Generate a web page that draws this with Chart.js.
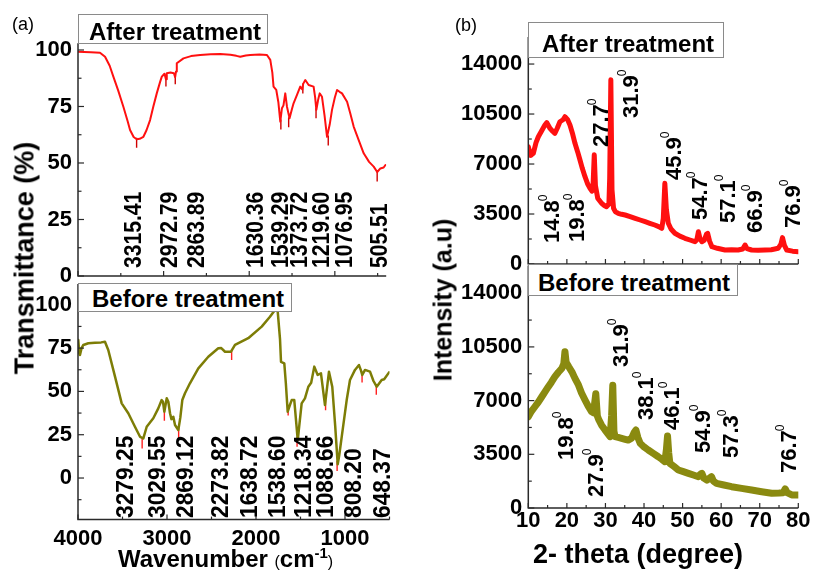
<!DOCTYPE html>
<html>
<head>
<meta charset="utf-8">
<script src="https://cdn.jsdelivr.net/npm/chart.js@4.4.0/dist/chart.umd.min.js"></script>
<style>
body { margin: 0; background: #fff; width: 813px; height: 572px; overflow: hidden; position: relative;
       font-family: "Liberation Sans", Arial, sans-serif; color: #000; }
canvas { position: absolute; left: 0; top: 0; }
.box { position: absolute; border: 1px solid #8a8a8a; background: #fff; box-sizing: border-box; }
.txt { position: absolute; line-height: 1; white-space: nowrap; }
.b { font-weight: bold; }
.rot { transform: translate(-50%, -50%) rotate(-90deg); }
</style>
</head>
<body>
<canvas id="ftirAfter" width="813" height="572"></canvas>
<canvas id="ftirBefore" width="813" height="572"></canvas>
<canvas id="xrdAfter" width="813" height="572"></canvas>
<canvas id="xrdBefore" width="813" height="572"></canvas>

<div class="txt" style="left:12px;top:15px;font-size:18px">(a)</div>
<div class="txt" style="left:455px;top:16px;font-size:18px">(b)</div>

<div class="box" style="left:78px;top:14px;width:190px;height:30px"></div>
<div class="txt b" style="left:89px;top:20px;font-size:24px">After treatment</div>
<div class="box" style="left:78px;top:283px;width:214px;height:29px"></div>
<div class="txt b" style="left:92px;top:287px;font-size:24px">Before treatment</div>
<div class="box" style="left:528px;top:22px;width:196px;height:36px"></div>
<div class="txt b" style="left:542px;top:32px;font-size:24px">After treatment</div>
<div class="box" style="left:528px;top:264px;width:210px;height:32px"></div>
<div class="txt b" style="left:538px;top:271px;font-size:24px">Before treatment</div>

<div class="txt b rot" style="left:25px;top:258px;font-size:27px">Transmittance (%)</div>
<div class="txt b rot" style="left:443px;top:300px;font-size:25px">Intensity (a.u)</div>
<div class="txt b" style="left:118px;top:545px;font-size:24px">Wavenumber <span style="font-size:16px;font-weight:normal">(</span>cm<sup style="font-size:15px">-1</sup><span style="font-size:16px;font-weight:normal">)</span></div>
<div class="txt b" style="left:533px;top:541px;font-size:27px">2- theta (degree)</div>

<script>
// ---------- FTIR, after treatment ----------
const ftirAfterWn = [4000, 3850, 3743, 3684, 3630, 3587, 3530, 3470, 3420, 3392, 3350, 3314, 3280, 3236, 3200,
  3158, 3120, 3080, 3040, 3021, 2990, 2972, 2963, 2920, 2880, 2865, 2855, 2846, 2768, 2680, 2573, 2450,
  2339, 2220, 2150, 2105, 2040, 1988, 1880, 1793, 1754, 1730, 1716, 1684, 1660, 1637, 1618, 1600, 1579,
  1559, 1529, 1500, 1482, 1442, 1404, 1380, 1370, 1345, 1306, 1248, 1230, 1216, 1195, 1177, 1150, 1120,
  1091, 1060, 1033, 1000, 974, 945, 916, 857, 820, 780, 720, 663, 600, 546, 505, 468, 430, 409];
const ftirAfterT = [99.2, 99, 98.8, 97.0, 93, 88.2, 82, 74.9, 68.5, 64.6, 61.5, 60.5, 60.7, 61.6, 64.5,
  69.0, 75, 80.8, 86, 88.2, 89.5, 87, 89.7, 90, 89.7, 88, 90.5, 94.1, 96.3, 97.3, 97.8, 98.1,
  98.2, 97.9, 97.4, 97.0, 97.6, 97.8, 98.0, 97.8, 95.6, 90, 83.8, 82.3, 77, 68.3, 74.2, 75.5, 80.8,
  74.9, 69.8, 74, 76.4, 80.1, 83.8, 82.5, 85, 86.7, 84.5, 83.8, 79, 73.5, 78, 80.8, 79.3, 71,
  61.6, 67, 73.5, 79, 82.3, 81.5, 80.8, 77.1, 72, 66.1, 60, 54.3, 50.5, 48.4, 46, 47.6, 48, 49.1];
const ftirAfterPeaks = ['3315.41', '2972.79', '2863.89', '1630.36', '1539.29', '1373.72', '1219.60', '1076.95', '505.51'];
const ftirAfterLabelWn = [3369, 2949, 2633, 1944, 1652, 1430, 1173, 904, 495];
const ftirAfterLabelT = [3.5, 3.5, 3.5, 3.5, 3.5, 3.5, 3.5, 3.5, 3.5];
const ftirAfterMarkT = [59, 86, 87, 67, 68, 83, 72, 60, 44];

// ---------- FTIR, before treatment ----------
const ftirBeforeWn = [3997, 3985, 3978, 3960, 3940, 3884, 3809, 3740, 3697, 3660, 3584, 3509, 3435, 3360,
  3303, 3266, 3228, 3154, 3098, 3060, 3045, 3030, 3003, 2985, 2966, 2950, 2929, 2910, 2873, 2850, 2828,
  2798, 2742, 2648, 2536, 2424, 2390, 2348, 2281, 2236, 2087, 1936, 1843, 1787, 1770, 1756, 1730, 1719,
  1682, 1665, 1644, 1620, 1599, 1570, 1531, 1487, 1450, 1412, 1380, 1345, 1307, 1270, 1225, 1180, 1143,
  1110, 1082, 1065, 1037, 981, 944, 888, 843, 820, 806, 775, 719, 680, 644, 588, 560, 513, 505];
const ftirBeforeT = [79.7, 72, 71.0, 75, 76.8, 77.8, 78.1, 78.3, 78.7, 73.9, 58.5, 43.1, 37.4, 29.6,
  23.8, 22.9, 29.6, 34.5, 40.2, 45.0, 44, 38.3, 46.0, 44, 37.4, 34, 35.4, 30.6, 27.7, 35, 45.0,
  48.9, 54.7, 63.3, 70.0, 74.9, 75, 72.9, 72.9, 76.8, 80.7, 87.4, 93.1, 97.0, 99, 96.0, 80, 67.1,
  66.2, 55, 38.3, 42, 45.0, 45.0, 21.9, 43.1, 46, 52.7, 55, 64.3, 59.5, 60.4, 42.1, 61.4, 52.7,
  30, 8, 13, 23.8, 45.0, 56.6, 62.4, 65.2, 62, 59.5, 62.4, 61.4, 56, 52.7, 56.6, 57, 60.4, 61];
const ftirBeforePeaks = ['3279.25', '3029.55', '2869.12', '2273.82', '1638.72', '1538.60', '1218.34', '1088.66', '808.20', '648.37'];
const ftirBeforeLabelWn = [3483, 3124, 2809, 2416, 2090, 1775, 1483, 1236, 921, 596];
const ftirBeforeLabelT = [-23.1, -23.1, -23.1, -23.1, -23.1, -23.1, -23.1, -23.1, -23.1, -23.1];
const ftirBeforeMarkT = [20, 36, 26, 71, 39, 21, 42, 7, 58, 51];

// ---------- XRD, after treatment ----------
const xrdAfterTheta = [10, 10.6, 11.3, 12, 12.6, 13.4, 14.3, 14.8, 15.6, 16.3, 16.9, 17.5, 18.2, 19, 19.5,
  20.2, 20.8, 21.5, 22.1, 22.8, 23.4, 24, 24.7, 25.4, 26, 26.5, 26.8, 27.1, 27.4, 28, 29, 29.7, 30.3,
  30.9, 31.1, 31.4, 31.7, 32.1, 32.6, 33.3, 34.2, 35.1, 36.4, 37.7, 39, 40.3, 41.5, 42.8, 43.8, 44.6,
  45.0, 45.4, 45.8, 46.3, 47, 48, 49.3, 50.6, 51.9, 53.2, 53.7, 54.1, 54.5, 55, 55.6, 56.2, 56.5, 57,
  57.6, 59, 61, 62.7, 64.4, 65.6, 66.2, 66.7, 67.9, 69.6, 71.4, 73, 74.8, 75.5, 75.9, 76.4, 77, 78.5, 80];
const xrdAfterI = [8210, 7600, 7750, 8500, 8910, 9300, 9730, 9900, 9500, 9300, 9150, 9500, 9960, 10100, 10310,
  10100, 9730, 9100, 8450, 7850, 7280, 6700, 6110, 5600, 5300, 5100, 5600, 7650, 5500, 4600, 4250, 4100, 4010,
  4200, 6000, 12900, 5200, 3900, 3650, 3550, 3480, 3430, 3320, 3200, 3080, 2960, 2850, 2730, 2620, 2500,
  3200, 5650, 3800, 2850, 2450, 2150, 1950, 1800, 1680, 1560, 1700, 2260, 1800, 1560, 1650, 2100, 2150, 1600,
  1210, 1100, 980, 1000, 980, 1050, 1330, 1080, 980, 960, 980, 1000, 1100, 1400, 1850, 1300, 980, 900, 860];
const xrdAfterPeaks = ['14.8', '19.8', '27.7', '31.9', '45.9', '54.7', '57.1', '66.9', '76.9'];
const xrdAfterLabelTheta = [15.9, 22.4, 28.6, 36.4, 47.5, 54.3, 61.6, 68.6, 78.3];
const xrdAfterLabelI = [1470, 1540, 8190, 10220, 5880, 3080, 2870, 2170, 2520];

// ---------- XRD, before treatment ----------
const xrdBeforeTheta = [10, 10.8, 11.7, 12.6, 13.5, 14.4, 15.2, 16, 16.9, 17.8, 18.7, 19.2, 19.5, 19.8,
  20.5, 21.3, 22.1, 23, 23.8, 24.7, 25.5, 26.4, 26.9, 27.5, 27.9, 28.3, 29, 29.9, 30.6, 31.2, 31.6,
  31.9, 32.2, 32.5, 33.3, 34.2, 35.1, 35.9, 36.8, 37.4, 37.9, 38.4, 39, 40, 41.1, 42.4, 43.7, 44.6,
  45.4, 45.8, 46.1, 46.4, 46.7, 47.8, 48.9, 50.2, 51.5, 52.8, 54.1, 54.6, 55, 55.5, 56.3, 57, 57.5, 58,
  58.8, 60.7, 62.7, 65.3, 67.9, 70.5, 73.1, 75, 76.1, 76.6, 77.1, 78.3, 80];
const xrdBeforeI = [5950, 6300, 6600, 6900, 7250, 7600, 7910, 8200, 8560, 8850, 9100, 9400, 10190, 9500,
  9200, 8880, 8450, 8020, 7500, 7040, 6650, 6280, 6200, 7450, 6000, 5740, 5400, 5080, 4850, 4650, 6000,
  8000, 5000, 4650, 4600, 4540, 4480, 4430, 4550, 4900, 5080, 4600, 4220, 3980, 3780, 3560, 3340, 3180,
  3020, 3800, 4690, 3600, 2910, 2700, 2480, 2370, 2260, 2150, 2040, 2200, 2260, 1950, 1820, 1950, 2040, 1750,
  1610, 1500, 1390, 1280, 1170, 1060, 960, 980, 1000, 1250, 1000, 850, 850];
const xrdBeforePeaks = ['19.8', '27.9', '31.9', '38.1', '46.1', '54.9', '57.3', '76.7'];
const xrdBeforeLabelTheta = [19.5, 27.3, 33.8, 40.3, 47.0, 55.0, 62.3, 77.3];
const xrdBeforeLabelI = [3130, 717, 9190, 5735, 5084, 3585, 3260, 2280];

// ---------- tick labels ----------
const ftirXTicks = [4000, 3000, 2000, 1000];
const ftirYTicks = [0, 25, 50, 75, 100];
const xrdXTicks = [10, 20, 30, 40, 50, 60, 70, 80];
const xrdYTicks = [0, 3500, 7000, 10500, 14000];

const FONT = '"Liberation Sans", Arial, sans-serif';
const W = 813, H = 572, X_H = 40;

function pts(xs, ys) { return xs.map((x, i) => ({ x: x, y: ys[i] })); }

// axes, inward ticks (major + halfway minor) and rotated peak labels
const decor = {
  id: 'decor',
  afterDatasetsDraw(chart, args, o) {
    const ctx = chart.ctx, a = chart.chartArea, xs = chart.scales.x, ys = chart.scales.y;
    ctx.save();
    ctx.strokeStyle = '#2a2a2a';
    ctx.lineWidth = 1.5;
    ctx.beginPath();
    ctx.moveTo(a.left, a.top); ctx.lineTo(a.left, a.bottom); ctx.lineTo(a.right, a.bottom);
    ctx.stroke();

    ctx.lineWidth = 1.2;
    const inRange = (s, v) => v >= Math.min(s.min, s.max) - 1e-6 && v <= Math.max(s.min, s.max) + 1e-6;
    const marks = (s, ticks, horiz) => {
      const step = ticks[1] - ticks[0];
      ticks.forEach(v => {
        if (!inRange(s, v)) return;
        const p = s.getPixelForValue(v);
        ctx.beginPath();
        if (horiz) { ctx.moveTo(p, a.bottom); ctx.lineTo(p, a.bottom - 5); }
        else { ctx.moveTo(a.left, p); ctx.lineTo(a.left + 6, p); }
        ctx.stroke();
      });
      for (let k = -1; k < ticks.length; k++) {
        const v = ticks[0] + step * (k + 0.5);
        if (!inRange(s, v)) continue;
        const p = s.getPixelForValue(v);
        ctx.beginPath();
        if (horiz) { ctx.moveTo(p, a.bottom); ctx.lineTo(p, a.bottom - 3); }
        else { ctx.moveTo(a.left, p); ctx.lineTo(a.left + 3.5, p); }
        ctx.stroke();
      }
    };
    marks(xs, o.xTicks, true);
    marks(ys, o.yTicks, false);

    ctx.fillStyle = '#000';
    o.labels.forEach((t, i) => {
      const px = xs.getPixelForValue(o.labelX[i]);
      const py = ys.getPixelForValue(o.labelY[i]);
      ctx.save();
      ctx.translate(px, py);
      ctx.rotate(-Math.PI / 2);
      ctx.scale(o.squeeze, 1);
      ctx.font = 'bold ' + o.size + 'px ' + FONT;
      ctx.textAlign = 'left';
      ctx.textBaseline = 'alphabetic';
      ctx.fillText(t, 0, o.size * 0.358);
      if (o.degree) {
        const w = ctx.measureText(t).width;
        ctx.font = '12px ' + FONT;
        ctx.fillText('0', w - 1, -4.2);
      }
      ctx.restore();
    });
    ctx.restore();
  }
};

function panel(id, area, yW, xr, yr, datasets, deco, showX) {
  const tickFont = { family: FONT, size: 22, weight: 'bold' };
  return new Chart(document.getElementById(id), {
    type: 'line',
    data: { datasets: datasets },
    options: {
      responsive: false,
      animation: false,
      events: [],
      layout: { padding: { left: area.l - yW, top: area.t, right: W - area.r, bottom: H - area.b - X_H } },
      plugins: { legend: { display: false }, tooltip: { enabled: false }, decor: deco },
      scales: {
        x: {
          type: 'linear', min: xr.min, max: xr.max, reverse: !!xr.reverse,
          grid: { display: false, drawTicks: false }, border: { display: false },
          ticks: { display: showX, padding: xr.pad, font: tickFont, color: '#000', maxRotation: 0, callback: v => v },
          afterBuildTicks: s => { s.ticks = xr.ticks.map(v => ({ value: v })); },
          afterFit: s => { s.height = X_H; }
        },
        y: {
          type: 'linear', min: yr.min, max: yr.max,
          grid: { display: false, drawTicks: false }, border: { display: false },
          ticks: { padding: 6, font: tickFont, color: '#000', callback: v => v },
          afterBuildTicks: s => { s.ticks = yr.ticks.map(v => ({ value: v })); },
          afterFit: s => { s.width = yW; }
        }
      }
    },
    plugins: [decor]
  });
}

function curve(xs, ys, color, width) {
  return { data: pts(xs, ys), borderColor: color, borderWidth: width, pointRadius: 0, tension: 0,
           fill: false, borderJoinStyle: 'round', borderCapStyle: 'round' };
}
function ticksMarks(xs, ys, color) {
  return { data: pts(xs, ys), showLine: false, pointStyle: 'line', rotation: 90, pointRadius: 5,
           pointBorderColor: color, pointBorderWidth: 1.4, pointBackgroundColor: color };
}

panel('ftirAfter', { l: 78, t: 43.2, r: 386.2, b: 276 }, 60,
  { min: 400, max: 4000, reverse: true, ticks: ftirXTicks, pad: 6 },
  { min: 0, max: 103, ticks: ftirYTicks },
  [curve(ftirAfterWn, ftirAfterT, '#ff1010', 2),
   ticksMarks(ftirAfterPeaks.map(Number), ftirAfterMarkT, '#d00000')],
  { xTicks: ftirXTicks, yTicks: ftirYTicks, labels: ftirAfterPeaks, labelX: ftirAfterLabelWn,
    labelY: ftirAfterLabelT, size: 24, squeeze: 0.88, degree: false }, false);

panel('ftirBefore', { l: 78, t: 284, r: 389.5, b: 519.6 }, 60,
  { min: 500, max: 4000, reverse: true, ticks: ftirXTicks, pad: 6 },
  { min: -24, max: 112, ticks: ftirYTicks },
  [curve(ftirBeforeWn, ftirBeforeT, '#7d7d06', 2.5),
   ticksMarks(ftirBeforePeaks.map(Number), ftirBeforeMarkT, '#ff2020')],
  { xTicks: ftirXTicks, yTicks: ftirYTicks, labels: ftirBeforePeaks, labelX: ftirBeforeLabelWn,
    labelY: ftirBeforeLabelT, size: 24, squeeze: 0.95, degree: false }, true);

panel('xrdAfter', { l: 528.3, t: 36.9, r: 798.3, b: 264 }, 90,
  { min: 10, max: 80, ticks: xrdXTicks, pad: 0 },
  { min: 0, max: 15900, ticks: xrdYTicks },
  [curve(xrdAfterTheta, xrdAfterI, '#ff1010', 5)],
  { xTicks: xrdXTicks, yTicks: xrdYTicks, labels: xrdAfterPeaks, labelX: xrdAfterLabelTheta,
    labelY: xrdAfterLabelI, size: 22, squeeze: 1, degree: true }, false);

panel('xrdBefore', { l: 528.3, t: 265.6, r: 798.3, b: 508 }, 90,
  { min: 10, max: 80, ticks: xrdXTicks, pad: 0 },
  { min: 0, max: 15800, ticks: xrdYTicks },
  [curve(xrdBeforeTheta, xrdBeforeI, '#8a8a10', 7)],
  { xTicks: xrdXTicks, yTicks: xrdYTicks, labels: xrdBeforePeaks, labelX: xrdBeforeLabelTheta,
    labelY: xrdBeforeLabelI, size: 22, squeeze: 1, degree: true }, true);
</script>
</body>
</html>
